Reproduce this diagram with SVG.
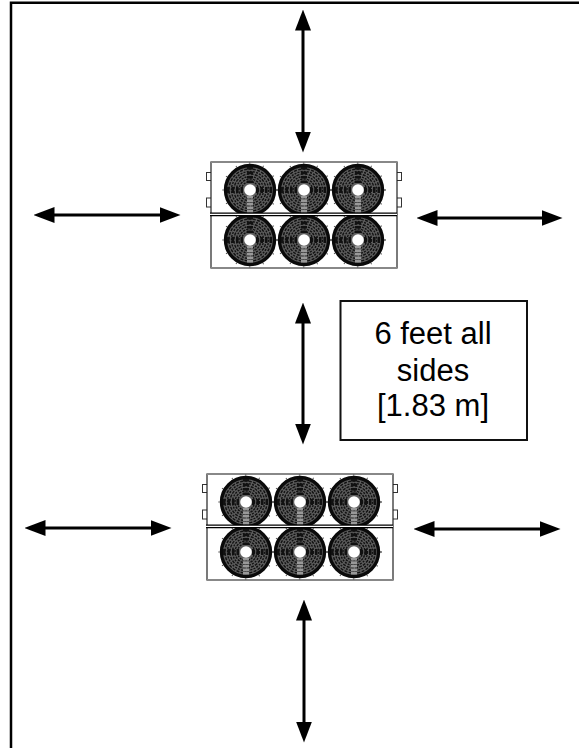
<svg xmlns="http://www.w3.org/2000/svg" width="579" height="748" viewBox="0 0 579 748">
<style>
.frame{fill:none;stroke:#000;stroke-width:2.5}
.arrow{fill:none;stroke:#000;stroke-width:3;marker-start:url(#head);marker-end:url(#head)}
.case{fill:#fff;stroke:#222;stroke-width:1.2}
.edge{fill:none;stroke:#888;stroke-width:2}
.tab{fill:#fff;stroke:#333;stroke-width:1}
.rail{fill:none;stroke:#000;stroke-width:1.2}
.ring{fill:none;stroke:#111;stroke-width:1.4}
.tick{fill:none;stroke:#555;stroke-width:1.6;stroke-dasharray:1 53}
.lbl{font-family:"Liberation Sans",Arial,sans-serif;font-size:31px;text-anchor:middle;fill:#000}
</style>
<defs>
<marker id="head" viewBox="0 0 21 16" refX="0.500" refY="8" markerWidth="21" markerHeight="16" markerUnits="userSpaceOnUse" orient="auto-start-reverse"><path d="M0 0L21 8L0 16Z" fill="#000"/></marker>
<g id="fan">
<circle r="27" fill="none" stroke="#555" stroke-width="1.4" stroke-dasharray="1 13"/>
<circle r="24.5" fill="#5c5c5c" stroke="#0a0a0a" stroke-width="3.4"/>
<circle class="ring" r="21" stroke-dasharray="3 1.4"/>
<circle class="ring" r="18.500" stroke-dasharray="2 1.2"/>
<circle class="ring" r="16" stroke-dasharray="3 1.2"/>
<circle class="ring" r="13.500" stroke-dasharray="2 1.2"/>
<circle class="ring" r="11" stroke-dasharray="2.400 1"/>
<circle class="ring" r="8.500" stroke-dasharray="2 1"/>
<path d="M0-23V-6M-23 0H-6M6 0H23" stroke="#111" stroke-width="6" stroke-dasharray="2.500 2" fill="none"/>
<path d="M0 6V23" stroke="#999" stroke-width="6" stroke-dasharray="2.500 1" fill="none"/>
<circle r="5.800" fill="#fff"/>
</g>
<g id="unit">
<rect class="tab" x="-4.500" y="10.500" width="5" height="8"/>
<rect class="tab" x="-4.500" y="36" width="5" height="9"/>
<rect class="tab" x="185.500" y="10.500" width="5" height="8"/>
<rect class="tab" x="185.500" y="36" width="5" height="9"/>
<rect class="case" width="186" height="106"/>
<path class="edge" d="M0 0H186M0 106H186"/>
<use href="#fan" x="39" y="28"/><use href="#fan" x="93" y="28"/><use href="#fan" x="147" y="28"/>
<use href="#fan" x="39" y="78"/><use href="#fan" x="93" y="78"/><use href="#fan" x="147" y="78"/>
<rect x="-1" y="51" width="187" height="2.600" fill="#fff"/>
<path class="rail" d="M-1 51.200H186M-1 53.600H186"/>
</g>
</defs>
<rect width="579" height="748" fill="#fff"/>
<path class="frame" d="M11 748V2.700H579"/>
<g id="unit-top"><use href="#unit" x="211" y="162"/></g>
<g id="unit-bottom"><use href="#unit" x="207" y="474"/></g>
<g id="connectors">
<path class="arrow" d="M303 30V132"/>
<path class="arrow" d="M54 215H160"/>
<path class="arrow" d="M437 218H542"/>
<path class="arrow" d="M303 323V424"/>
<path class="arrow" d="M45 528H151"/>
<path class="arrow" d="M434 529H540"/>
<path class="arrow" d="M304 620V722"/>
</g>
<g id="note">
<rect x="340.500" y="301" width="186.500" height="139" fill="#fff" stroke="#111" stroke-width="2"/>
<text class="lbl" x="433" y="344">6 feet all</text>
<text class="lbl" x="433" y="381">sides</text>
<text class="lbl" x="433" y="416">[1.83 m]</text>
</g>
</svg>
